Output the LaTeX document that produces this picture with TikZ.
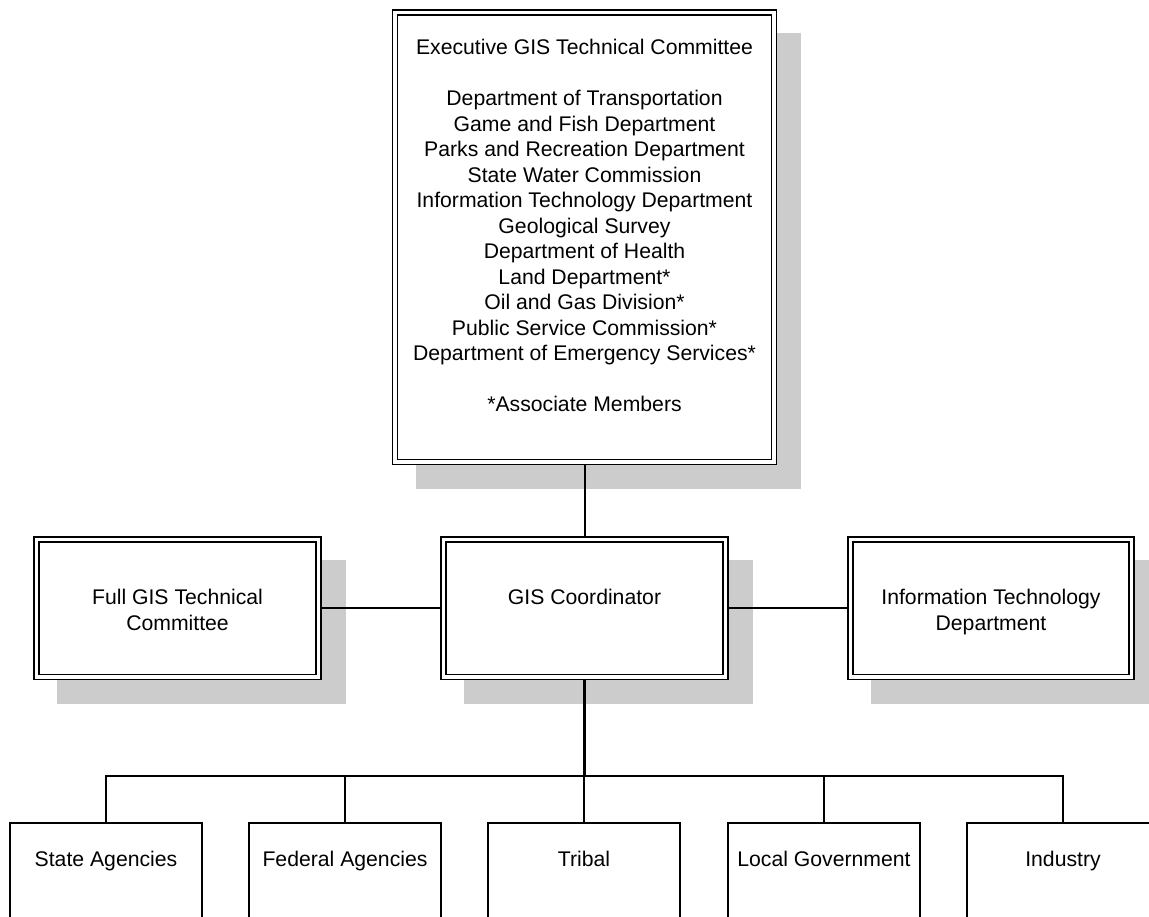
\documentclass[tikz,border=0pt]{standalone}
\usepackage{fontspec}
\setmainfont{Liberation Sans}
\usetikzlibrary{positioning,backgrounds}
\definecolor{shadowgray}{RGB}{204,204,204}

\begin{document}
\begin{tikzpicture}[x=1pt,y=-1pt]
  \tikzset{panel/.style={draw,double,line width=1.5pt,double distance=3.5pt,fill=white,inner sep=0pt,outer sep=3.25pt}}
  \tikzset{unit/.style={draw,line width=1.5pt,fill=white,inner sep=0pt,minimum width=192pt,minimum height=160pt}}
  \tikzset{boxtext/.style={align=center,inner sep=0pt,font=\fontsize{21.2}{25.5}\selectfont}}
  \tikzset{link/.style={line width=2pt}}
  \tikzset{trunk/.style={line width=3pt}}
  \tikzset{bar/.style={line width=2pt,line cap=rect}}
  \tikzset{stub/.style={line width=1.5pt}}
  \useasboundingbox (0,0) rectangle (1149,916);
  \clip (0,0) rectangle (1149,916);
  % double framed boxes
  \node[panel,minimum width=379pt,minimum height=449.5pt] (exec) at (584.5,237) {};
  \node[panel,minimum width=282pt,minimum height=137.5pt] (coord) at (584.5,608) {};
  \node[panel,minimum width=282pt,minimum height=137.5pt] (full) at (177.5,608) {};
  \node[panel,minimum width=281pt,minimum height=137.5pt] (itdept) at (991,608) {};
  \begin{scope}[on background layer]
    \foreach \n in {exec,coord,full,itdept}
      \fill[shadowgray] ([shift={(24pt,-24pt)}]\n.south west) rectangle ([shift={(24pt,-24pt)}]\n.north east);
  \end{scope}
  \node[boxtext,below=30.1pt of exec.north] (exectext) {Executive GIS Technical Committee\\[25.5pt]
    Department of Transportation\\ Game and Fish Department\\ Parks and Recreation Department\\
    State Water Commission\\ Information Technology Department\\ Geological Survey\\
    Department of Health\\ Land Department*\\ Oil and Gas Division*\\
    Public Service Commission*\\ Department of Emergency Services*\\[25.5pt]
    *Associate Members};
  \node[boxtext,below=53.1pt of coord.north] (coordtext) {GIS Coordinator};
  \node[boxtext,below=53.1pt of full.north] (fulltext) {Full GIS Technical\\ Committee};
  \node[boxtext,below=53.1pt of itdept.north] (ittext) {Information Technology\\ Department};
  % lower row
  \node[unit] (state) at (106,903) {};
  \node[unit] (federal) at (345,903) {};
  \node[unit] (tribal) at (584,903) {};
  \node[unit] (local) at (824,903) {};
  \node[unit] (industry) at (1063,903) {};
  \node[boxtext,below=29.15pt of state.north] (statetext) {State Agencies};
  \node[boxtext,below=29.15pt of federal.north] (federaltext) {Federal Agencies};
  \node[boxtext,below=29.15pt of tribal.north] (tribaltext) {Tribal};
  \node[boxtext,below=29.15pt of local.north] (localtext) {Local Government};
  \node[boxtext,below=29.15pt of industry.north] (industrytext) {Industry};
  % connectors
  \draw[link] (exec.south) -- (coord.north);
  \draw[link] (full.east) -- (coord.west);
  \draw[link] (coord.east) -- (itdept.west);
  \coordinate (bus) at (584.5,776);
  \draw[trunk] (coord.south) -- (bus);
  \draw[bar] (state.north |- bus) -- (industry.north |- bus);
  \foreach \n in {state,federal,tribal,local,industry}
    \draw[stub] (bus -| \n.north) -- (\n.north);
\end{tikzpicture}
\end{document}
